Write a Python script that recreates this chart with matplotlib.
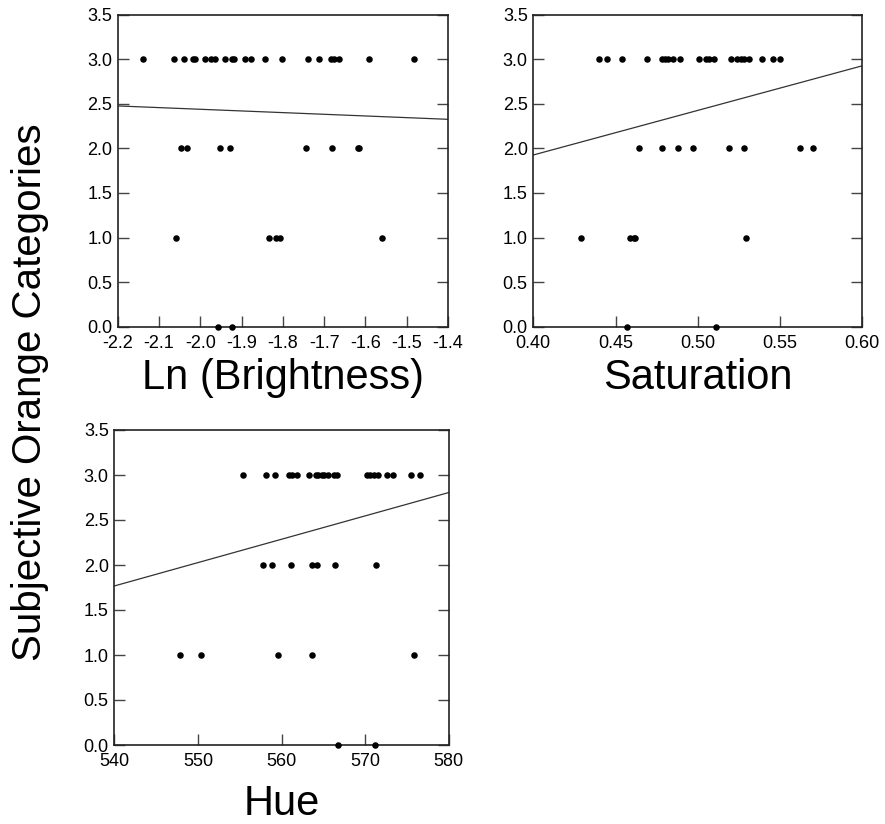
import matplotlib
matplotlib.use("Agg")
import matplotlib.pyplot as plt
from matplotlib.ticker import FormatStrFormatter

plt.rcParams['font.family'] = ['Liberation Sans', 'DejaVu Sans']

# Ln(Brightness) panel
bright_x = [-2.138, -2.064, -2.039, -2.018, -2.012, -1.988, -1.974, -1.964, -1.939, -1.924,
            -1.918, -1.891, -1.878, -1.843, -1.802, -1.740, -1.713, -1.683, -1.676, -1.663,
            -1.592, -1.482,
            -2.047, -2.031, -1.952, -1.927, -1.744, -1.681, -1.619, -1.615,
            -2.058, -1.834, -1.817, -1.807, -1.560,
            -1.958, -1.923]
bright_y = [3] * 22 + [2] * 8 + [1] * 5 + [0] * 2
bright_fit = ([-2.2, -1.4], [2.475, 2.325])

# Saturation panel
sat_x = [0.440, 0.445, 0.454, 0.469, 0.478, 0.480, 0.482, 0.485, 0.489, 0.501, 0.505,
         0.507, 0.510, 0.520, 0.524, 0.526, 0.528, 0.531, 0.539, 0.546, 0.550,
         0.464, 0.478, 0.488, 0.497, 0.519, 0.528, 0.562, 0.570,
         0.429, 0.459, 0.461, 0.462, 0.529,
         0.457, 0.511]
sat_y = [3] * 21 + [2] * 8 + [1] * 5 + [0] * 2
sat_fit = ([0.40, 0.60], [1.925, 2.925])

# Hue panel
hue_x = [555.4, 558.1, 559.2, 560.9, 561.3, 561.8, 563.3, 564.1, 564.4, 564.8, 565.1,
         565.6, 566.3, 566.6, 570.2, 570.6, 571.1, 571.5, 572.6, 573.3, 575.5, 576.6,
         557.8, 558.9, 561.1, 563.7, 564.3, 566.4, 571.3,
         547.8, 550.4, 559.6, 563.6, 575.9,
         566.8, 571.2]
hue_y = [3] * 22 + [2] * 7 + [1] * 5 + [0] * 2
hue_fit = ([540, 580], [1.767, 2.805])

W, H = 885, 824
fig = plt.figure(figsize=(W / 100, H / 100), dpi=100)


def panel(rect, x, y, fit, xlim, xticks, xfmt, xlabel, lpad=4):
    ax = fig.add_axes(rect)
    ax.scatter(x, y, s=22, color='black', zorder=3, clip_on=False, linewidths=0)
    ax.plot(fit[0], fit[1], color='#333333', lw=0.9)
    ax.set_xlim(*xlim)
    ax.set_ylim(0, 3.5)
    ax.set_xticks(xticks)
    ax.set_yticks([0, 0.5, 1, 1.5, 2, 2.5, 3, 3.5])
    ax.xaxis.set_major_formatter(FormatStrFormatter(xfmt))
    ax.yaxis.set_major_formatter(FormatStrFormatter('%.1f'))
    ax.tick_params(direction='in', length=8, width=1, color='#444444',
                   labelsize=13, right=True, top=False)
    ax.tick_params(axis='x', pad=6)
    ax.tick_params(axis='y', pad=4)
    for s in ax.spines.values():
        s.set_color('#222222')
        s.set_linewidth(1.2)
    ax.set_xlabel(xlabel, fontsize=30, labelpad=lpad)
    return ax


panel([117.7 / W, 1 - 326.7 / H, 330.3 / W, 312.2 / H], bright_x, bright_y, bright_fit,
      (-2.2, -1.4), [-2.2, -2.1, -2.0, -1.9, -1.8, -1.7, -1.6, -1.5, -1.4], '%.1f',
      'Ln (Brightness)')
panel([533.3 / W, 1 - 326.7 / H, 329 / W, 312.2 / H], sat_x, sat_y, sat_fit,
      (0.40, 0.60), [0.40, 0.45, 0.50, 0.55, 0.60], '%.2f', 'Saturation')
panel([114.3 / W, 1 - 745 / H, 334.4 / W, 315 / H], hue_x, hue_y, hue_fit,
      (540, 580), [540, 550, 560, 570, 580], '%d', 'Hue', lpad=10)

fig.text(30 / W, 1 - 392 / H, 'Subjective Orange Categories', rotation=90,
         fontsize=29, ha='center', va='center')

fig.savefig('out.png', dpi=100)
